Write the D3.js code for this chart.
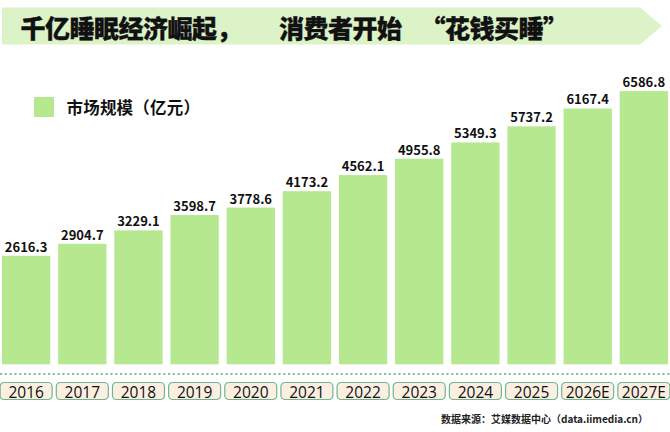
<!DOCTYPE html>
<html lang="zh-CN">
<head>
<meta charset="utf-8">
<script src="https://cdn.jsdelivr.net/npm/d3@7"></script>
<style>
  html, body { margin: 0; padding: 0; background: #fff; }
  svg { display: block; }
  .fw { font-feature-settings: "fwid" 1; }
</style>
</head>
<body>
<div id="chart"></div>
<script>
// data
const years = ["2016", "2017", "2018", "2019", "2020", "2021", "2022", "2023", "2024", "2025", "2026E", "2027E"];
const marketSize = [2616.3, 2904.7, 3229.1, 3598.7, 3778.6, 4173.2, 4562.1, 4955.8, 5349.3, 5737.2, 6167.4, 6586.8];
const titleText = "千亿睡眠经济崛起，消费者开始“花钱买睡”";
const legendText = "市场规模（亿元）";
const sourceText = "数据来源：艾媒数据中心（data.iimedia.cn）";

const width = 670, height = 432;
const FONT = "'Noto Sans CJK SC', sans-serif";
const BAR_COLOR = "#b6e98f";

const svg = d3.select("#chart").append("svg")
  .attr("width", width)
  .attr("height", height)
  .style("font-family", FONT);

// place full-width chars one by one on a fixed pitch (extra gap before / after some punctuation)
function charRow(sel, text, x0, pitch, preGap, postGap) {
  let cursor = x0;
  const xs = Array.from(text).map(c => {
    const xi = cursor + (preGap[c] || 0);
    cursor = xi + pitch + (postGap[c] || 0);
    return xi;
  });
  sel.selectAll("tspan")
    .data(Array.from(text))
    .join("tspan")
    .attr("x", (c, i) => xs[i])
    .text(c => c);
}

// title banner (arrow shape)
svg.append("path")
  .attr("d", "M2,7.5 L640,7.5 L662,26 L640,44.5 L2,44.5 Z")
  .attr("fill", "#dbf3c7");

const title = svg.append("text")
  .attr("class", "fw")
  .attr("y", 27)
  .attr("dominant-baseline", "central")
  .style("font-size", "25px")
  .style("font-weight", 900)
  .attr("fill", "#111")
  .attr("stroke", "#111")
  .attr("stroke-width", 0.35);
charRow(title, titleText, 20.5, 24.5, { "“": 19 }, { "，": 38 });

// legend
svg.append("rect")
  .attr("x", 34).attr("y", 97)
  .attr("width", 20).attr("height", 20)
  .attr("fill", BAR_COLOR);

const legend = svg.append("text")
  .attr("class", "fw")
  .attr("y", 107)
  .attr("dominant-baseline", "central")
  .style("font-size", "16.5px")
  .style("font-weight", 700)
  .attr("fill", "#111");
charRow(legend, legendText, 66.5, 16.7, {}, {});

// scales
const x = d3.scaleBand()
  .domain(years)
  .range([2, 668])
  .paddingInner(0.14)
  .paddingOuter(0);

const y = d3.scaleLinear()
  .domain([0, 7000])
  .range([364.3, 364.3 - 0.04148 * 7000]);

const data = years.map((yr, i) => ({ year: yr, value: marketSize[i] }));

// bars
svg.append("g")
  .selectAll("rect")
  .data(data)
  .join("rect")
  .attr("x", d => x(d.year))
  .attr("y", d => y(d.value))
  .attr("width", x.bandwidth())
  .attr("height", d => y(0) - y(d.value))
  .attr("fill", BAR_COLOR);

// value labels
svg.append("g")
  .selectAll("text")
  .data(data)
  .join("text")
  .attr("x", d => x(d.year) + x.bandwidth() / 2)
  .attr("y", d => y(d.value) - 4)
  .attr("text-anchor", "middle")
  .style("font-size", "13px")
  .style("font-weight", 700)
  .attr("fill", "#111")
  .text(d => d.value.toFixed(1));

// dotted baseline
svg.append("line")
  .attr("x1", 0).attr("x2", width)
  .attr("y1", 374).attr("y2", 374)
  .attr("stroke", "#7fc49a")
  .attr("stroke-width", 2.2)
  .attr("stroke-dasharray", "2.2,2.6");

// year tags
const tag = svg.append("g")
  .selectAll("g")
  .data(data)
  .join("g")
  .attr("transform", d => `translate(${x(d.year) + x.bandwidth() / 2},391)`);

tag.append("rect")
  .attr("x", -26).attr("y", -8.5)
  .attr("width", 52).attr("height", 17)
  .attr("rx", 4)
  .attr("fill", "#fcefe1")
  .attr("stroke", "#6cb88f")
  .attr("stroke-width", 1.2);

tag.append("text")
  .attr("text-anchor", "middle")
  .attr("dominant-baseline", "central")
  .attr("y", 0.5)
  .style("font-family", "'Open Sans', 'DejaVu Sans', sans-serif")
  .style("font-size", "15.5px")
  .attr("fill", "#111")
  .text(d => d.year);

// source note
svg.append("text")
  .attr("x", 648).attr("y", 418)
  .attr("text-anchor", "end")
  .attr("dominant-baseline", "central")
  .style("font-size", "10px")
  .style("font-weight", 700)
  .attr("fill", "#222")
  .text(sourceText);
</script>
</body>
</html>
